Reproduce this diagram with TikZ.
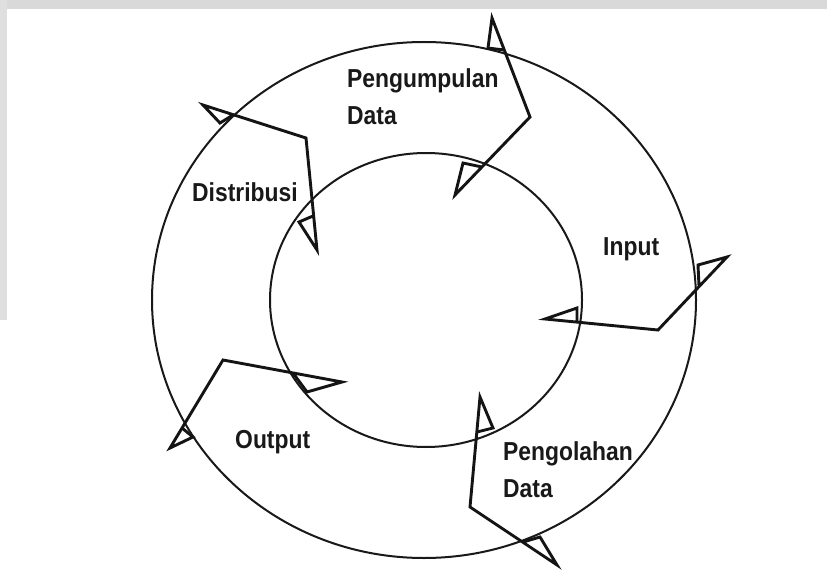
\documentclass[tikz,border=0pt]{standalone}
\usepackage{fontspec}
\newfontfamily\lblfont[FakeStretch=0.88]{Liberation Sans Bold}
\begin{document}
\begin{tikzpicture}[x=1pt,y=-1pt,
  ring/.style={line width=2pt,black!90},
  bolt/.style={line width=2.9pt,black!92,line join=miter,miter limit=12},
  lbl/.style={anchor=base west,inner sep=0pt,font=\lblfont\fontsize{26}{37}\selectfont,text=black!90}]
\useasboundingbox (0,0) rectangle (827,572);
\fill[white] (0,0) rectangle (827,572);
% scan border
\fill[gray!30] (0,0) rectangle (827,9);
\fill[gray!25] (0,0) rectangle (7,320);
% rings
\draw[ring] (424,300) ellipse [x radius=272, y radius=258];
\draw[ring] (426,300) ellipse [x radius=156, y radius=147];
% bolts
\draw[bolt] (504,50) -- (488,48) -- (492,18) -- (530,117) -- (455,195) -- (463,163) -- (482,167);
\draw[bolt] (699,286) -- (698,265) -- (727,257) -- (658,330) -- (545,319) -- (577,308) -- (577,322);
\draw[bolt] (477,432) -- (493,428) -- (480,397) -- (470,507) -- (557,565) -- (540,537) -- (523,542);
\draw[bolt] (182,428) -- (193,437) -- (170,448) -- (223,360) -- (342,382) -- (307,392) -- (293,373);
\draw[bolt] (233,115) -- (220,123) -- (203,105) -- (306,138) -- (317,250) -- (299,222) -- (313,216);
% labels
\node[lbl] (kumpul) at (347,88) {\begin{tabular}[t]{@{}l@{}}Pengumpulan\\Data\end{tabular}};
\node[lbl] (distr) at (192,201) {Distribusi};
\node[lbl] (inp) at (603,255) {Input};
\node[lbl] (outp) at (235,448) {Output};
\node[lbl] (olah) at (503,460) {\begin{tabular}[t]{@{}l@{}}Pengolahan\\Data\end{tabular}};
\end{tikzpicture}
\end{document}
